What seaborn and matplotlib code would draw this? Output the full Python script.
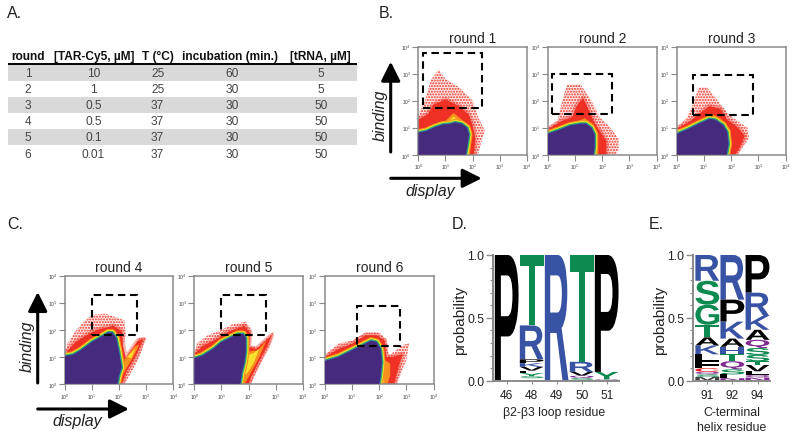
import numpy as np
import pandas as pd
import matplotlib
matplotlib.use("Agg")
import matplotlib.pyplot as plt
import seaborn as sns
from matplotlib.colors import ListedColormap
from matplotlib.font_manager import FontProperties
from matplotlib.patches import PathPatch, Rectangle
from matplotlib.textpath import TextPath
from matplotlib.transforms import Affine2D

# =========================
# table (panel A)
# =========================
table_header = ["round", "[TAR-Cy5, µM]", "T (°C)", "incubation (min.)", "[tRNA, µM]"]
table_round = ["1", "2", "3", "4", "5", "6"]
table_tar = ["10", "1", "0.5", "0.5", "0.1", "0.01"]
table_temp = ["25", "25", "37", "37", "37", "37"]
table_incub = ["60", "30", "30", "30", "30", "30"]
table_trna = ["5", "5", "50", "50", "50", "50"]
table_stripe = [[1], [0], [1], [0], [1], [0]]

# =========================
# flow panels, all in decades (log10)
# edge = top of the purple block, sparse/dense = red cloud, warm/hot = orange, yellow areas
# =========================
edge_r1 = [(0, .82), (.3, .88), (.6, 1.02), (.9, 1.12), (1.2, 1.15), (1.35, 1.2), (1.6, 1.15), (1.8, 1.0), (1.87, .75), (1.82, .4), (1.75, 0)]
sparse_r1 = [(0, .9), (0, 1.5), (.25, 2.0), (.45, 2.75), (.75, 3.15), (1.0, 2.8), (1.5, 2.5), (2.0, 2.0), (2.2, 1.4), (2.45, .9), (2.3, .4), (2.2, 0), (1.7, 0)]
dense_r1 = [(0, .9), (0, 1.3), (.35, 1.5), (.55, 1.85), (1.0, 2.05), (1.5, 1.8), (1.85, 1.5), (2.0, 1.1), (2.1, .6), (2.05, 0), (1.7, 0)]
warm_r1 = [(.9, 1.15), (1.3, 1.55), (1.6, 1.3), (1.9, 1.0), (1.95, .5), (1.9, 0), (1.75, 0)]
hot_r1 = [(1.1, 1.2), (1.3, 1.42), (1.55, 1.2), (1.3, 1.1)]
gate_r1 = (.16, 1.74, 2.36, 3.77)

edge_r2 = [(0, .78), (.4, .92), (.8, 1.08), (1.2, 1.15), (1.4, 1.15), (1.6, 1.0), (1.72, .75), (1.72, .3), (1.68, 0)]
sparse_r2 = [(0, 1.0), (.35, 1.25), (.5, 1.9), (.7, 2.6), (1.2, 2.6), (1.6, 2.0), (1.9, 1.4), (2.3, 1.0), (2.6, .6), (2.6, .2), (2.5, 0), (1.7, 0)]
dense_r2 = [(0, .95), (.5, 1.25), (.9, 1.4), (1.05, 1.8), (1.3, 2.1), (1.5, 1.65), (1.7, 1.2), (1.9, .9), (2.15, .5), (2.15, 0), (1.7, 0)]
warm_r2 = [(.9, 1.15), (1.35, 1.35), (1.65, 1.15), (1.85, .8), (1.85, 0), (1.7, 0)]
hot_r2 = [(1.1, 1.17), (1.35, 1.27), (1.6, 1.05), (1.4, 1.1)]
gate_r2 = (.15, 1.5, 2.36, 2.98)

edge_r3 = [(0, .78), (.4, .95), (.8, 1.15), (1.2, 1.33), (1.4, 1.3), (1.7, 1.1), (1.85, .85), (1.9, .4), (1.83, 0)]
sparse_r3 = [(0, 1.0), (.35, 1.35), (.6, 1.9), (.8, 2.5), (1.1, 2.5), (1.5, 2.0), (1.9, 1.5), (2.3, 1.2), (2.6, 1.0), (2.65, .6), (2.35, .2), (2.2, 0), (1.8, 0)]
dense_r3 = [(0, .98), (.5, 1.25), (.85, 1.55), (1.2, 1.8), (1.6, 1.7), (1.85, 1.3), (2.2, 1.05), (2.5, .7), (2.3, .25), (2.15, 0), (1.8, 0)]
warm_r3 = [(.9, 1.3), (1.3, 1.5), (1.6, 1.35), (1.95, .95), (2.0, .4), (1.95, 0), (1.8, 0)]
hot_r3 = [(1.1, 1.33), (1.3, 1.42), (1.6, 1.22), (1.4, 1.25)]
gate_r3 = (.6, 1.47, 2.8, 2.95)

edge_r4 = [(0, 1.03), (.3, 1.08), (.6, 1.25), (1.0, 1.55), (1.3, 1.72), (1.6, 1.9), (1.75, 1.9), (1.9, 1.7), (2.0, 1.2), (2.1, .6), (2.0, .3), (1.95, 0)]
sparse_r4 = [(0, 1.1), (.1, 1.5), (.4, 1.95), (.7, 2.3), (1.0, 2.55), (1.5, 2.6), (2.2, 2.35), (2.25, 1.8), (2.1, 1.35), (2.25, 1.0), (2.75, 1.7), (3.0, 1.7), (2.75, 1.0), (2.5, .5), (2.2, 0), (1.95, 0)]
dense_r4 = [(0, 1.1), (.4, 1.55), (.8, 1.8), (1.2, 2.0), (1.8, 2.15), (2.1, 1.95), (2.15, 1.4), (2.25, .95), (2.7, 1.6), (2.9, 1.65), (2.6, 1.0), (2.3, .5), (2.1, 0), (1.95, 0)]
warm_r4 = [(2.2, .9), (2.6, 1.4), (2.75, 1.45), (2.5, .95), (2.2, .45), (2.1, .35)]
hot_r4 = [(2.3, 1.0), (2.6, 1.3), (2.45, .95)]
gate_r4 = (1.0, 1.79, 2.67, 3.27)

edge_r5 = [(0, .95), (.3, 1.05), (.7, 1.3), (1.0, 1.55), (1.3, 1.7), (1.6, 1.85), (1.8, 1.85), (1.9, 1.7), (1.9, 1.2), (1.85, .8), (1.75, .4), (1.7, 0)]
sparse_r5 = [(0, 1.1), (.1, 1.5), (.5, 1.8), (1.0, 2.0), (1.4, 2.2), (1.9, 2.3), (2.1, 2.0), (2.05, 1.4), (2.3, 1.35), (2.95, 1.95), (2.8, 1.5), (2.5, .9), (2.2, .3), (2.1, 0), (1.7, 0)]
dense_r5 = [(0, 1.1), (.3, 1.4), (.8, 1.65), (1.3, 1.95), (1.85, 2.15), (2.05, 1.9), (2.0, 1.35), (2.3, 1.3), (2.85, 1.8), (2.7, 1.4), (2.4, .85), (2.1, .25), (2.0, 0), (1.7, 0)]
warm_r5 = [(2.0, 1.2), (2.35, 1.25), (2.65, 1.6), (2.4, 1.0), (2.05, .35), (1.85, 0), (1.75, 0), (1.85, .8)]
hot_r5 = [(1.95, 1.05), (2.2, 1.15), (2.4, 1.3), (2.2, .8), (1.95, .4), (1.8, .3), (1.88, .8)]
gate_r5 = (.99, 1.79, 2.63, 3.27)

edge_r6 = [(0, .85), (.5, 1.0), (1.0, 1.25), (1.4, 1.45), (1.7, 1.6), (1.9, 1.55), (2.05, 1.3), (2.1, .8), (2.05, .3), (2.0, 0)]
sparse_r6 = [(0, 1.0), (.1, 1.15), (.5, 1.5), (1.0, 1.6), (1.5, 1.9), (2.0, 1.9), (2.25, 1.65), (2.3, 1.3), (2.35, 1.05), (2.9, 1.45), (3.1, 1.5), (3.0, .9), (2.8, .4), (2.65, 0), (2.0, 0)]
dense_r6 = [(0, 1.0), (.5, 1.3), (1.0, 1.48), (1.5, 1.8), (1.9, 1.8), (2.2, 1.6), (2.25, 1.0), (2.5, 1.0), (2.85, 1.1), (2.7, .6), (2.6, .2), (2.55, 0), (2.0, 0)]
warm_r6 = [(2.1, .95), (2.4, .75), (2.4, .3), (2.3, 0), (2.05, 0)]
hot_r6 = [(2.08, .4), (2.18, .5), (2.15, 0), (2.05, 0)]
gate_r6 = (1.17, 1.4, 2.78, 2.88)

# =========================
# sequence logos, stacks listed top to bottom
# =========================
residues_d = ["46", "48", "49", "50", "51"]
stack_46 = [("P", 1.0)]
stack_48 = [("T", .56), ("R", .27), ("P", .03), ("K", .03), ("V", .03), ("L", .02), ("Y", .025), ("S", .015)]
stack_49 = [("R", 1.0)]
stack_50 = [("T", .85), ("R", .08), ("V", .03), ("Q", .02), ("S", .02)]
stack_51 = [("P", .93), ("Y", .06), ("Q", .01)]

residues_e = ["91", "92", "94"]
stack_91 = [("R", .205), ("S", .19), ("G", .16), ("T", .10), ("A", .065), ("K", .07), ("L", .055), ("F", .055), ("C", .03), ("Q", .02), ("S", .02), ("M", .03)]
stack_92 = [("R", .355), ("P", .175), ("K", .135), ("A", .065), ("H", .06), ("T", .055), ("Q", .065), ("S", .04), ("L", .03), ("N", .02)]
stack_94 = [("P", .30), ("R", .185), ("K", .11), ("A", .08), ("Q", .065), ("S", .055), ("S", .05), ("T", .03), ("V", .05), ("L", .03), ("Q", .02), ("N", .025)]

letter_colors = {"R": "#3953a4", "K": "#3953a4", "H": "#3953a4",
                 "T": "#0c8a50", "S": "#0c8a50", "G": "#0c8a50", "Y": "#0c8a50",
                 "P": "#000000", "A": "#000000", "V": "#000000", "L": "#000000", "F": "#000000", "M": "#444444",
                 "Q": "#7f2a8f", "N": "#7f2a8f", "C": "#ee2024"}

W, H = 795, 439
GRAY = "#8a8a8a"

sns.set_theme(style="white")
plt.rcParams["font.family"] = ["Liberation Sans", "DejaVu Sans"]
plt.rcParams["mathtext.default"] = "regular"

fig = plt.figure(figsize=(W / 100, H / 100), dpi=100)


def px_axes(left, top, right, bottom):
    return fig.add_axes([left / W, 1 - bottom / H, (right - left) / W, (bottom - top) / H])


def flow_panel(left, top, title, edge, sparse, dense, warm, hot, gate):
    ax = px_axes(left, top, left + 108.6, top + 108.2)
    x, y = zip(*sparse)
    ax.fill(x, y, facecolor="#ef4136", alpha=.10, lw=0)
    ax.fill(x, y, facecolor="none", edgecolor="#ee3124", hatch="......", lw=0)
    x, y = zip(*dense)
    ax.fill(x, y, facecolor="#ee3124", edgecolor="#ee3124", lw=0)
    ax.fill(x, y, facecolor="none", edgecolor="#ee3124", alpha=.35, lw=3.5, joinstyle="round")
    x, y = zip(*warm)
    ax.fill(x, y, facecolor="#f7901e", lw=0)
    x, y = zip(*hot)
    ax.fill(x, y, facecolor="#f9e02e", lw=0)

    ex, ey = map(list, zip(*edge))
    df = pd.DataFrame({"x": ex, "y": ey})
    # rainbow rim: thick lines under the purple block, widest first
    for color, lw in [("#f7941d", 5.0), ("#f9ed32", 3.4), ("#39b54a", 2.2), ("#2b83ba", 1.0)]:
        sns.lineplot(data=df, x="x", y="y", sort=False, estimator=None, color=color, lw=lw,
                     solid_joinstyle="round", ax=ax, legend=False)
    ax.fill(ex + [0], ey + [0], color="#452a7d", lw=0, zorder=3)

    g = gate
    ax.add_patch(Rectangle((g[0], g[1]), g[2] - g[0], g[3] - g[1], fill=False, ec="black", lw=1.5,
                           ls=(0, (3.6, 2.2)), zorder=4))
    ax.set_xlim(0, 4)
    ax.set_ylim(0, 4)
    ax.set_xlabel("")
    ax.set_ylabel("")
    decades = [0, 1, 2, 3, 4]
    labels = [f"$10^{{{d}}}$" for d in decades]
    ax.set_xticks(decades, labels)
    ax.set_yticks(decades, labels)
    ax.tick_params(length=4.3, width=.8, color=GRAY, labelsize=3.6, labelcolor="#444444", pad=1,
                   bottom=True, left=True)
    for s in ax.spines.values():
        s.set_color(GRAY)
        s.set_linewidth(1.1)
    ax.set_title(title, fontsize=10, color="#222222", pad=3.5)
    return ax


def logo_panel(left, right, x0, step, residues, stacks):
    ax = px_axes(left, 256, right, 381.7)
    totals = pd.DataFrame({"residue": residues, "total": [sum(h for _, h in s) for s in stacks]})
    # bars only set up the categorical axis, the letters sit in them
    sns.barplot(data=totals, x="residue", y="total", color="white", alpha=0, width=.95, ax=ax)
    ax.set_xlim((left - x0) / step, (right - x0) / step)
    ax.set_ylim(0, 1)
    font = FontProperties(family="Liberation Sans", weight="bold")
    for i, stack in enumerate(stacks):
        top = 1.0
        for letter, h in stack:
            path = TextPath((0, 0), letter, size=1, prop=font)
            bb = path.get_extents()
            tr = (Affine2D().translate(-bb.x0, -bb.y0).scale(.95 / bb.width, h / bb.height)
                  .translate(i - .475, top - h) + ax.transData)
            ax.add_patch(PathPatch(path, transform=tr, fc=letter_colors[letter], lw=0, clip_on=False))
            top -= h
    ax.set_yticks([0, .5, 1], ["0.0", "0.5", "1.0"])
    ax.set_yticks(np.arange(0, 1.01, .1), minor=True)
    ax.tick_params(axis="y", which="major", length=5, width=1, color=GRAY, labelsize=8.8, pad=1.5, left=True,
                   labelcolor="#222222")
    ax.tick_params(axis="y", which="minor", length=2.5, width=.8, color=GRAY, left=True)
    ax.tick_params(axis="x", length=2.5, width=.8, color=GRAY, labelsize=8.6, pad=3.5, bottom=True,
                   labelcolor="#222222")
    for s in ["top", "right"]:
        ax.spines[s].set_visible(False)
    for s in ["left", "bottom"]:
        ax.spines[s].set_color(GRAY)
        ax.spines[s].set_linewidth(1.4)
    ax.set_xlabel("")
    ax.set_ylabel("")
    return ax


# table stripes
ax_t = px_axes(7.5, 65.5, 356.7, 162.5)
sns.heatmap(table_stripe, cmap=ListedColormap(["white", "#d9d9d9"]), vmin=0, vmax=1, cbar=False,
            xticklabels=False, yticklabels=False, ax=ax_t)

# flow panels
flow_panel(418.3, 47.6, "round 1", edge_r1, sparse_r1, dense_r1, warm_r1, hot_r1, gate_r1)
flow_panel(548, 47.6, "round 2", edge_r2, sparse_r2, dense_r2, warm_r2, hot_r2, gate_r2)
flow_panel(677, 47.6, "round 3", edge_r3, sparse_r3, dense_r3, warm_r3, hot_r3, gate_r3)
flow_panel(64.7, 276.7, "round 4", edge_r4, sparse_r4, dense_r4, warm_r4, hot_r4, gate_r4)
flow_panel(194.3, 276.7, "round 5", edge_r5, sparse_r5, dense_r5, warm_r5, hot_r5, gate_r5)
flow_panel(325, 276.7, "round 6", edge_r6, sparse_r6, dense_r6, warm_r6, hot_r6, gate_r6)

# logos
logo_panel(493.3, 619, 506.7, 25, residues_d, [stack_46, stack_48, stack_49, stack_50, stack_51])
logo_panel(693.3, 770, 707.3, 25.1, residues_e, [stack_91, stack_92, stack_94])

# overlay in pixel coordinates for the labels, arrows and table text
over = fig.add_axes([0, 0, 1, 1], facecolor="none")
over.set_xlim(0, W)
over.set_ylim(H, 0)
over.axis("off")

for lab, x, y in [("A.", 7, 13), ("B.", 379, 13), ("C.", 7, 225), ("D.", 451.5, 225), ("E.", 649, 225)]:
    over.text(x, y, lab, fontsize=11.5, va="center", ha="left", color="#222222")

col_x_head = [28, 94, 157.8, 229.7, 320.5]
col_x_vals = [28, 93.5, 157.7, 232, 320.7]
for x, name in zip(col_x_head, table_header):
    over.text(x, 57, name, fontsize=8.6, fontweight="bold", ha="center", va="center", color="#111111")
over.plot([7.5, 356.7], [65, 65], color="black", lw=1.4, solid_capstyle="butt")
table_cols = [table_round, table_tar, table_temp, table_incub, table_trna]
for x, col in zip(col_x_vals, table_cols):
    for i, val in enumerate(col):
        over.text(x, 73.7 + 16.2 * i, val, fontsize=8.6, ha="center", va="center", color="#444444")


def big_arrow(x0, y0, x1, y1):
    over.annotate("", xy=(x1, y1), xytext=(x0, y0),
                  arrowprops=dict(arrowstyle="-|>,head_length=0.8,head_width=0.4", color="black", lw=2.2,
                                  mutation_scale=14.5, shrinkA=0, shrinkB=0))


big_arrow(390.7, 153, 390.7, 62.7)
big_arrow(390.7, 179.3, 481.7, 179.3)
big_arrow(37.7, 384, 37.7, 293)
big_arrow(37.7, 410, 129, 410)

over.text(380, 115, "binding", fontsize=11.5, style="italic", rotation=90, ha="center", va="center", color="#222222")
over.text(430, 192, "display", fontsize=11.5, style="italic", ha="center", va="center", color="#222222")
over.text(27, 346, "binding", fontsize=11.5, style="italic", rotation=90, ha="center", va="center", color="#222222")
over.text(77, 422, "display", fontsize=11.5, style="italic", ha="center", va="center", color="#222222")

over.text(460, 320, "probability", fontsize=11, rotation=90, ha="center", va="center", color="#222222")
over.text(660, 320, "probability", fontsize=11, rotation=90, ha="center", va="center", color="#222222")
over.text(554, 413, "β2-β3 loop residue", fontsize=8.8, ha="center", va="center", color="#222222")
over.text(732, 413, "C-terminal", fontsize=8.8, ha="center", va="center", color="#222222")
over.text(732, 428, "helix residue", fontsize=8.8, ha="center", va="center", color="#222222")

fig.savefig("out.png", dpi=100)
